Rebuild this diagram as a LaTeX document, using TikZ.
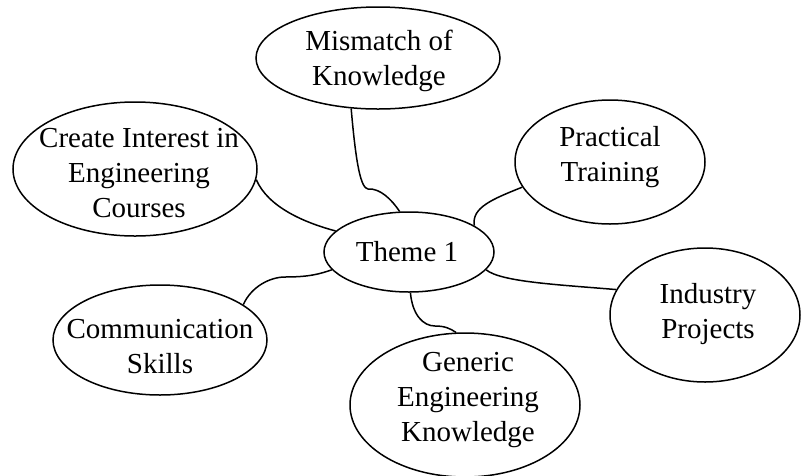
\documentclass[tikz,border=0pt]{standalone}
\usepackage{fontspec}
\setmainfont{Liberation Serif}
\usetikzlibrary{shapes.geometric}
\begin{document}
\begin{tikzpicture}[x=1pt,y=-1pt,
  bubble/.style={ellipse, draw, line width=1.5pt, inner sep=0pt},
  txt/.style={align=center, font=\fontsize{29}{35}\selectfont, inner sep=0pt},
  link/.style={line width=1.5pt}]
\useasboundingbox (0,0) rectangle (801,475);
% ellipses
\node[bubble, minimum width=244pt, minimum height=102pt] (mis) at (378,58) {};
\node[bubble, minimum width=244pt, minimum height=134pt] (create) at (135,169) {};
\node[bubble, minimum width=190pt, minimum height=124pt] (prac) at (610,162) {};
\node[bubble, minimum width=170pt, minimum height=80pt] (theme) at (409,252) {};
\node[bubble, minimum width=190pt, minimum height=134pt] (ind) at (705,315) {};
\node[bubble, minimum width=214pt, minimum height=110pt] (comm) at (160,340) {};
\node[bubble, minimum width=230pt, minimum height=144pt] (gen) at (465,405) {};
% texts
\node[txt] (misT) at (379,61) {Mismatch of\\Knowledge};
\node[txt] (createT) at (139,173) {Create Interest in\\Engineering\\Courses};
\node[txt] (pracT) at (610,157) {Practical\\Training};
\node[txt] (themeT) at (407,252) {Theme 1};
\node[txt] (indT) at (708,314) {Industry\\Projects};
\node[txt] (commT) at (160,347) {Communication\\Skills};
\node[txt] (genT) at (468,400) {Generic\\Engineering\\Knowledge};
% connectors
\draw[link] (mis.-118) .. controls +(5,58) and +(-7,-1) .. (368,189) .. controls +(12,-1) and +(-8,-12) .. (theme.103);
\draw[link] (create.-5) .. controls +(12,28) and +(-30,-8) .. (theme.164.5);
\draw[link] (prac.196) .. controls +(-30,12) and +(-3,-18) .. (theme.22.6);
\draw[link] (theme.-13) .. controls +(15,12) and +(-60,-5) .. (ind.164.3);
\draw[link] (comm.23.5) .. controls +(8,-18) and +(-15,0) .. (285,277) .. controls +(25,0) and +(-12,4) .. (theme.193.7);
\draw[link] (theme.-88.6) .. controls +(2,22) and +(-12,0) .. (435,326) .. controls +(10,0) and +(-6,-4) .. (gen.97);
\end{tikzpicture}
\end{document}
